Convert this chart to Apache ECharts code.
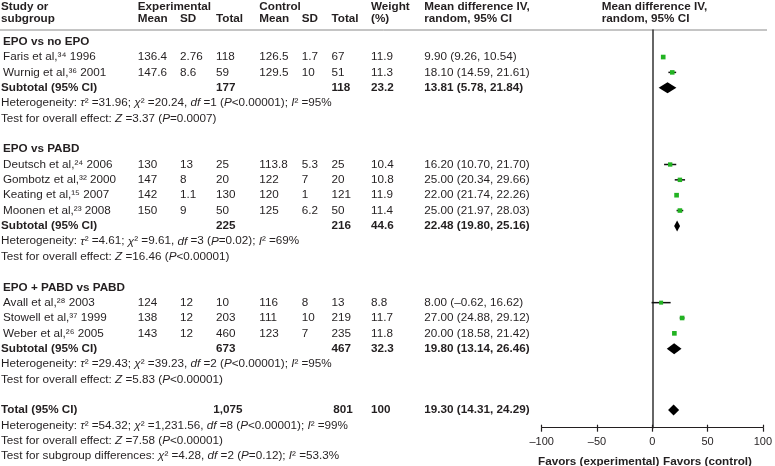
<!DOCTYPE html>
<html>
<head>
<meta charset="utf-8">
<script src="https://cdn.jsdelivr.net/npm/echarts@6/dist/echarts.min.js"></script>
<style>
html, body { margin: 0; padding: 0; background: #fff; }
#chart { width: 775px; height: 466px; }
</style>
</head>
<body>
<div id="chart"></div>
<script>
// groups
const groupNames = ['EPO vs no EPO', 'EPO vs PABD', 'EPO + PABD vs PABD'];
const groupSizes = [2, 4, 3];

// studies
const authors = ['Faris et al,', 'Wurnig et al,', 'Deutsch et al,', 'Gombotz et al,', 'Keating et al,', 'Moonen et al,', 'Avall et al,', 'Stowell et al,', 'Weber et al,'];
const refs = ['³⁴', '³⁶', '²⁴', '³²', '¹⁵', '²³', '²⁸', '³⁷', '²⁶'];
const years = [1996, 2001, 2006, 2000, 2007, 2008, 2003, 1999, 2005];
const expMean = ['136.4', '147.6', '130', '147', '142', '150', '124', '138', '143'];
const expSD = ['2.76', '8.6', '13', '8', '1.1', '9', '12', '12', '12'];
const expN = ['118', '59', '25', '20', '130', '50', '10', '203', '460'];
const ctlMean = ['126.5', '129.5', '113.8', '122', '120', '125', '116', '111', '123'];
const ctlSD = ['1.7', '10', '5.3', '7', '1', '6.2', '8', '10', '7'];
const ctlN = ['67', '51', '25', '20', '121', '50', '13', '219', '235'];
const weights = [11.9, 11.3, 10.4, 10.8, 11.9, 11.4, 8.8, 11.7, 11.8];
const md = [9.90, 18.10, 16.20, 25.00, 22.00, 25.00, 8.00, 27.00, 20.00];
const lo = [9.26, 14.59, 10.70, 20.34, 21.74, 21.97, -0.62, 24.88, 18.58];
const hi = [10.54, 21.61, 21.70, 29.66, 22.26, 28.03, 16.62, 29.12, 21.42];

// subtotals
const subExpN = ['177', '225', '673'];
const subCtlN = ['118', '216', '467'];
const subWeight = ['23.2', '44.6', '32.3'];
const subMd = [13.81, 22.48, 19.80];
const subLo = [5.78, 19.80, 13.14];
const subHi = [21.84, 25.16, 26.46];
const subTau2 = ['31.96', '4.61', '29.43'];
const subChi2 = ['20.24', '9.61', '39.23'];
const subDf = ['1', '3', '2'];
const subP = ['<0.00001', '=0.02', '<0.00001'];
const subI2 = ['95', '69', '95'];
const subZ = ['3.37', '16.46', '5.83'];
const subPz = ['=0.0007', '<0.00001', '<0.00001'];

// overall
const totExpN = '1,075';
const totCtlN = '801';
const totWeight = '100';
const totMd = 19.30, totLo = 14.31, totHi = 24.29;
const totHet = ['54.32', '1,231.56', '8', '<0.00001', '99'];
const totZ = ['7.58', '<0.00001'];
const subgroupDiff = ['4.28', '2', '=0.12', '53.3'];

const FONT = '"Liberation Sans", Arial, sans-serif';
const INK = '#231f20';
const FS = 11.7;
const GREEN = '#22b322';

// column left edges
const colX = { study: 3, label: 1, expMean: 137.7, expSD: 180, expN: 216, ctlMean: 259.3, ctlSD: 301.7, ctlN: 331.5, weight: 371, md: 424.3, plot: 601.7 };

function fmt(v) { return v.toFixed(2).replace('-', '–'); }
function ci(m, l, h) { return fmt(m) + ' (' + fmt(l) + ', ' + fmt(h) + ')'; }
function het(tau, chi, df, p, i2) {
  return 'Heterogeneity: {i|τ}² =' + tau + '; {i|χ}² =' + chi + ', {i|df} =' + df + ' ({i|P}' + p + '); {i|I}² =' + i2 + '%';
}
function overall(z, p) { return 'Test for overall effect: {i|Z} =' + z + ' ({i|P}' + p + ')'; }

// build table rows (row index -> y axis value)
const rows = [];
const studyPts = [];
const diamondPts = [];
let idx = 0, s = 0;
groupNames.forEach(function (name, g) {
  rows.push({ idx: idx, cells: [[colX.study, name, true]] });
  idx++;
  for (let k = 0; k < groupSizes[g]; k++, s++) {
    rows.push({ idx: idx, cells: [
      [colX.study, authors[s] + refs[s] + ' ' + years[s]],
      [colX.expMean, expMean[s]], [colX.expSD, expSD[s]], [colX.expN, expN[s]],
      [colX.ctlMean, ctlMean[s]], [colX.ctlSD, ctlSD[s]], [colX.ctlN, ctlN[s]],
      [colX.weight, weights[s].toFixed(1)], [colX.md, ci(md[s], lo[s], hi[s])]
    ] });
    studyPts.push([md[s], idx, lo[s], hi[s], weights[s]]);
    idx++;
  }
  rows.push({ idx: idx, cells: [
    [colX.label, 'Subtotal (95% CI)', true], [colX.expN, subExpN[g], true], [colX.ctlN, subCtlN[g], true],
    [colX.weight, subWeight[g], true], [colX.md, ci(subMd[g], subLo[g], subHi[g]), true]
  ] });
  diamondPts.push([subMd[g], idx, subLo[g], subHi[g]]);
  idx++;
  rows.push({ idx: idx, cells: [[colX.label, het(subTau2[g], subChi2[g], subDf[g], subP[g], subI2[g])]] });
  idx++;
  rows.push({ idx: idx, cells: [[colX.label, overall(subZ[g], subPz[g])]] });
  idx += 2;
});
rows.push({ idx: idx, cells: [
  [colX.label, 'Total (95% CI)', true], [colX.expN - 2.7, totExpN, true], [colX.ctlN + 1.8, totCtlN, true],
  [colX.weight, totWeight, true], [colX.md, ci(totMd, totLo, totHi), true]
] });
diamondPts.push([totMd, idx, totLo, totHi]);
rows.push({ idx: idx + 1, cells: [[colX.label, het.apply(null, totHet)]] });
rows.push({ idx: idx + 2, cells: [[colX.label, overall(totZ[0], totZ[1])]] });
rows.push({ idx: idx + 3, cells: [[colX.label, 'Test for subgroup differences: {i|χ}² =' + subgroupDiff[0] + ', {i|df} =' + subgroupDiff[1] + ' ({i|P}' + subgroupDiff[2] + '); {i|I}² =' + subgroupDiff[3] + '%']] });

function textStyle(text, bold) {
  const w = bold ? 'bold' : 'normal';
  return {
    text: text,
    fill: INK,
    fontSize: FS,
    fontFamily: FONT,
    fontWeight: w,
    align: 'left',
    verticalAlign: 'middle',
    rich: {
      i: { fontSize: FS, fontFamily: FONT, fontWeight: w, fontStyle: 'italic', fill: INK }
    }
  };
}

function headerText(x, y, text) {
  return { type: 'text', left: x, top: y, style: { text: text, fill: INK, font: 'bold ' + FS + 'px ' + FONT } };
}

const option = {
  animation: false,
  backgroundColor: '#fff',
  grid: { left: 541.7, right: 9.3, top: 30, bottom: 38.3 },
  xAxis: [{
    type: 'value', min: -100, max: 100, interval: 50,
    position: 'bottom',
    axisLine: { onZero: false, lineStyle: { color: INK, width: 1 } },
    axisTick: { length: 4, lineStyle: { color: INK, width: 1.2 } },
    axisLabel: {
      margin: 9, color: INK, fontSize: 11, fontFamily: FONT,
      formatter: function (v) { return v < 0 ? '–' + (-v) : String(v); }
    },
    splitLine: { show: false }
  }, {
    type: 'value', min: -100, max: 100, interval: 50,
    position: 'bottom',
    axisLine: { show: false, onZero: false },
    axisTick: { inside: true, length: 3, lineStyle: { color: INK, width: 1.2 } },
    axisLabel: { show: false },
    splitLine: { show: false }
  }],
  yAxis: {
    type: 'value', inverse: true, min: -0.762, max: 25.147,
    axisLine: { show: true, onZero: true, lineStyle: { color: '#333', width: 1.5 } },
    axisTick: { show: false },
    axisLabel: { show: false },
    splitLine: { show: false }
  },
  graphic: [
    { type: 'line', shape: { x1: 0, y1: 30, x2: 767, y2: 30 }, style: { stroke: '#8a8a8a', lineWidth: 1 } },
    headerText(colX.label, 1, 'Study or'),
    headerText(colX.label, 13, 'subgroup'),
    headerText(colX.expMean, 1, 'Experimental'),
    headerText(colX.expMean, 13, 'Mean'),
    headerText(colX.expSD, 13, 'SD'),
    headerText(colX.expN, 13, 'Total'),
    headerText(colX.ctlMean, 1, 'Control'),
    headerText(colX.ctlMean, 13, 'Mean'),
    headerText(colX.ctlSD, 13, 'SD'),
    headerText(colX.ctlN, 13, 'Total'),
    headerText(colX.weight, 1, 'Weight'),
    headerText(colX.weight, 13, '(%)'),
    headerText(colX.md, 1, 'Mean difference IV,'),
    headerText(colX.md, 13, 'random, 95% CI'),
    headerText(colX.plot, 1, 'Mean difference IV,'),
    headerText(colX.plot, 13, 'random, 95% CI'),
    { type: 'text', left: 538, top: 456, style: { text: 'Favors (experimental)', fill: INK, font: 'bold ' + FS + 'px ' + FONT } },
    { type: 'text', left: 663, top: 456, style: { text: 'Favors (control)', fill: INK, font: 'bold ' + FS + 'px ' + FONT } }
  ],
  series: [{
    type: 'custom',
    name: 'table',
    silent: true,
    data: rows.map(function (r, i) { return [0, r.idx, i]; }),
    renderItem: function (params, api) {
      const r = rows[api.value(2)];
      const y = api.coord([0, api.value(1)])[1];
      return {
        type: 'group',
        children: r.cells.map(function (c) {
          return { type: 'text', x: c[0], y: y, style: textStyle(c[1], !!c[2]) };
        })
      };
    }
  }, {
    type: 'custom',
    name: 'studies',
    silent: true,
    data: studyPts,
    renderItem: function (params, api) {
      const c = api.coord([api.value(0), api.value(1)]);
      const a = api.coord([api.value(2), api.value(1)]);
      const b = api.coord([api.value(3), api.value(1)]);
      const sz = Math.sqrt(api.value(4)) * 1.35;
      return {
        type: 'group',
        children: [
          { type: 'line', shape: { x1: a[0], y1: c[1], x2: b[0], y2: c[1] }, style: { stroke: '#111', lineWidth: 1.5 } },
          { type: 'rect', shape: { x: c[0] - sz / 2, y: c[1] - sz / 2, width: sz, height: sz }, style: { fill: GREEN } }
        ]
      };
    }
  }, {
    type: 'custom',
    name: 'pooled',
    silent: true,
    data: diamondPts,
    renderItem: function (params, api) {
      const c = api.coord([api.value(0), api.value(1)]);
      const a = api.coord([api.value(2), api.value(1)]);
      const b = api.coord([api.value(3), api.value(1)]);
      const h = 5.5;
      return {
        type: 'polygon',
        shape: { points: [[a[0], c[1]], [c[0], c[1] - h], [b[0], c[1]], [c[0], c[1] + h]] },
        style: { fill: '#000' }
      };
    }
  }]
};

const myChart = echarts.init(document.getElementById('chart'));
myChart.setOption(option);
</script>
</body>
</html>
